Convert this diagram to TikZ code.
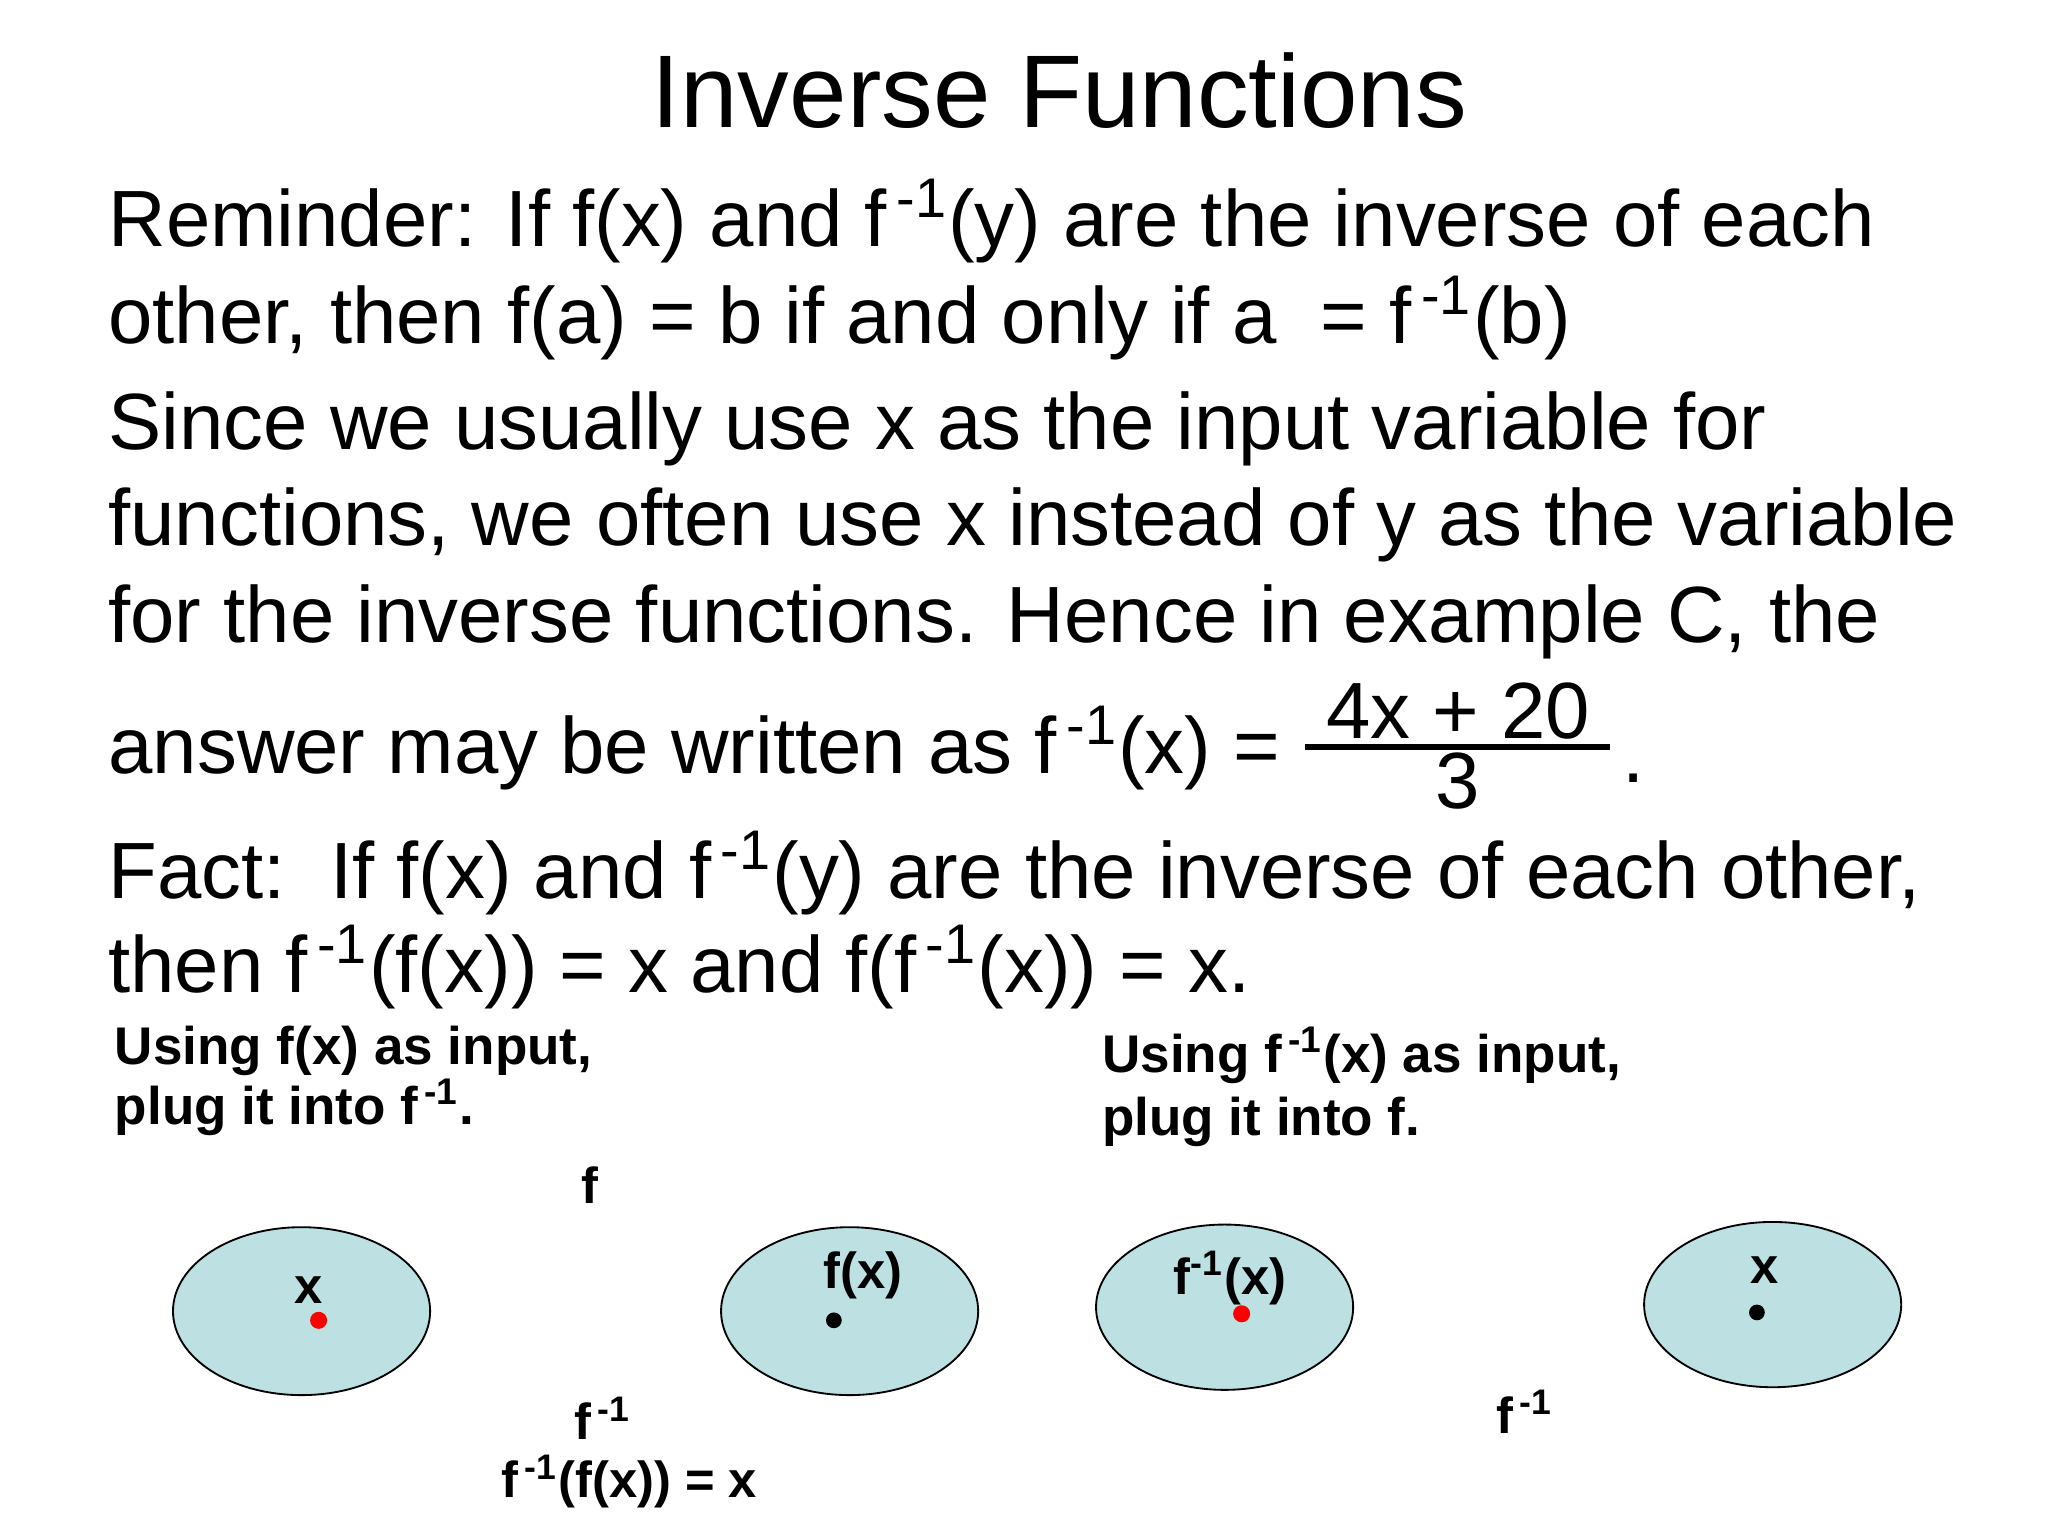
\documentclass[tikz,border=0pt]{standalone}
\usepackage{fontspec}
\usetikzlibrary{shapes.geometric}
\setmainfont{Liberation Sans}
\newcommand{\inv}{\textsuperscript{\,-1}}
\begin{document}
\begin{tikzpicture}[x=0.01cm,y=-0.01cm,
  body/.style={anchor=base west,inner sep=0pt,font=\fontsize{17.3}{20}\selectfont},
  small/.style={anchor=base west,inner sep=0pt,font=\fontsize{11.5}{13}\selectfont\bfseries},
  lab/.style={anchor=base,inner sep=0pt,font=\fontsize{11}{13}\selectfont\bfseries},
  set/.style={draw=black,fill={rgb,255:red,189;green,224;blue,226},ellipse,inner sep=0pt,minimum width=1.96cm,minimum height=1.28cm}]
\useasboundingbox (0,0) rectangle (1562,1172);
\fill[white] (0,0) rectangle (1562,1172);
\node[anchor=base,inner sep=0pt,font=\fontsize{22.4}{26}\selectfont] (title) at (808,97) {Inverse Functions};
\node[body] (l1) at (82,188) {Reminder: If f(x) and f\inv(y) are the inverse of each};
\node[body] (l2) at (82,262) {other, then f(a) = b if and only if a \ = f\inv(b)};
\node[body] (l3) at (82,343) {Since we usually use x as the input variable for};
\node[body] (l4) at (82,416) {functions, we often use x instead of y as the variable};
\node[body] (l5) at (82,490) {for the inverse functions. Hence in example C, the};
\node[body] (l6) at (82,590) {answer may be written as f\inv(x) =};
\node[body,anchor=base] (num) at (1112,563) {4x + 20};
\node[body,anchor=base] (den) at (1112,617) {3};
\draw[line width=1.3pt] (995,570) -- (1228,570);
\node[body] (dot) at (1237,597) {.};
\node[body] (l7) at (82,685) {Fact:\ \ If f(x) and f\inv(y) are the inverse of each other,};
\node[body] (l8) at (82,757) {then f\inv(f(x)) = x and f(f\inv(x)) = x.};
\node[small] (a1) at (87,812) {Using f(x) as input,};
\node[small] (a2) at (87,858) {plug it into f\inv.};
\node[small] (b1) at (840,818) {Using f\inv(x) as input,};
\node[small] (b2) at (840,866) {plug it into f.};
\node[set] (e1) at (230,1000) {};
\node[set] (e2) at (648,1000) {};
\node[set,minimum height=1.26cm] (e3) at (934,997) {};
\node[set,minimum height=1.26cm] (e4) at (1352,995) {};
\fill[red] (243,1007) circle (6.5);
\fill[black] (636,1007) circle (6);
\fill[red] (947,1002) circle (6.5);
\fill[black] (1340,1001) circle (6);
\node[lab] (t1) at (235,994) {x};
\node[lab] (t2) at (658,983) {f(x)};
\node[lab] (t3) at (938,987) {f\textsuperscript{-1}(x)};
\node[lab] (t4) at (1346,979) {x};
\node[lab] (f1) at (450,918) {f};
\node[lab] (g1) at (460,1098) {f\inv};
\node[lab] (h1) at (480,1142) {f\inv(f(x)) = x};
\node[lab] (g2) at (1163,1093) {f\inv};
\end{tikzpicture}
\end{document}
